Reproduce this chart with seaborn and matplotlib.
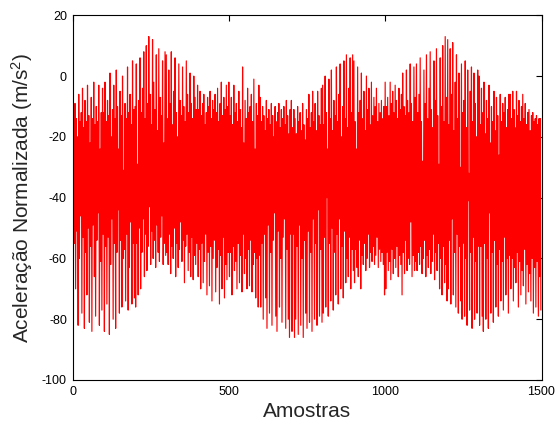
import numpy as np
import pandas as pd
import matplotlib
matplotlib.use("Agg")
import matplotlib.pyplot as plt
import seaborn as sns

# Peak (odd half-cycle) and trough (even half-cycle) values of the normalised
# acceleration signal, one pair every 4 samples, 100 samples per row.
picos = [
    -5, -16, -9, -14, -20, -6, -15, -12, -4, -17, -8, -15, -3, -13, -22, -7, -14, -2, -16, -10, -15, -3, -24, -12, -4,
    -12, -2, -15, -8, -13, 1, -20, -11, -3, -14, 2, -10, -24, -5, -13, 0, -31, -9, -14, 3, -12, -6, -16, 5, -11,
    -10, 4, -29, -8, 6, -12, -4, 8, -14, 10, -9, 13, -6, -16, 12, -2, -11, 7, -18, 9, -7, -13, 5, -22, 8,
    7, -14, 2, -9, 8, -16, -5, 6, -12, -20, 4, -8, -13, 3, -10, -15, 5, -6, -12, 1, -9, -14, 0, -7, -11,
    -3, -11, -5, -13, -9, -6, -16, -12, -7, -10, -5, -14, -8, -11, -6, -12, -4, -15, -9, -2, -13, -7, -11, -3, -10,
    -2, -13, -7, -16, -3, -12, -9, -15, -5, -11, -17, 3, -22, -8, -14, -4, -12, -10, -6, -15, -1, -24, -9, -13, -3,
    -7, -15, -10, -13, -18, -8, -14, -11, -16, -9, -13, -20, -10, -15, -12, -9, -17, -11, -14, -10, -16, -8, -13, -19, -11,
    -8, -17, -11, -14, -19, -10, -15, -12, -18, -9, -16, -21, -11, -14, -6, -17, -12, -5, -15, -9, -18, -5, -13, -16, -4,
    -3, -16, 0, -12, -24, -1, -14, 2, -18, -8, -13, 3, -15, -6, 4, -20, -10, 5, -14, 7, -17, -4, 6, -12, 7,
    5, -15, -24, 3, -12, -8, 1, -14, -5, -18, 0, -11, -4, -16, -2, -13, -7, -10, -4, -15, -9, -12, -8, -14, -10,
    -2, -10, -7, -13, -2, -9, -5, -12, -3, -8, -14, -4, -11, -6, 1, -10, -13, 2, -8, -12, 4, -9, -15, 3, -7,
    4, -12, -6, 6, -15, -28, 2, -9, 7, -14, -4, 8, -11, -17, 5, -8, 9, -13, -29, 6, -10, 10, -15, 13, -7,
    12, -16, 9, -6, 11, -18, -2, 7, -14, 1, -30, 4, -12, -8, 5, -17, 2, -32, -5, 3, -15, 1, -9, -20, 2,
    0, -16, -4, -12, -2, -19, -8, -14, -3, -22, -10, -15, -5, -18, -7, -13, -26, -6, -15, -9, -12, -7, -17, -11, -6,
    -6, -14, -5, -11, -17, -5, -13, -8, -15, -10, -6, -14, -9, -16, -12, -11, -18, -13, -12, -15, -14, -13, -16, -14, -14,
]
vales = [
    -80, -55, -70, -51, -82, -60, -46, -78, -53, -83, -58, -72, -50, -81, -56, -84, -49, -66, -79, -54, -45, -82, -61, -77, -52,
    -84, -56, -75, -53, -85, -62, -47, -80, -55, -83, -58, -44, -78, -54, -76, -60, -57, -74, -52, -77, -63, -48, -75, -55, -73,
    -76, -55, -72, -50, -70, -58, -47, -66, -52, -64, -56, -43, -62, -51, -60, -54, -63, -49, -58, -61, -53, -46, -62, -55, -59,
    -58, -62, -52, -65, -56, -60, -50, -66, -55, -63, -57, -48, -61, -54, -68, -56, -52, -64, -58, -66, -53, -67, -59, -62, -55,
    -66, -57, -70, -55, -68, -61, -52, -72, -58, -69, -56, -74, -60, -54, -71, -63, -57, -75, -59, -70, -53, -73, -62, -67, -58,
    -66, -58, -72, -56, -64, -61, -70, -55, -68, -59, -71, -52, -65, -60, -70, -57, -69, -54, -71, -62, -58, -73, -60, -76, -59,
    -76, -55, -80, -52, -73, -83, -49, -78, -58, -82, -54, -45, -79, -84, -51, -76, -60, -81, -53, -47, -83, -57, -80, -86, -52,
    -84, -52, -86, -80, -56, -85, -49, -82, -60, -86, -54, -78, -83, -51, -81, -58, -84, -47, -80, -55, -82, -44, -79, -57, -81,
    -78, -53, -76, -40, -79, -55, -74, -50, -77, -58, -72, -52, -75, -47, -70, -56, -73, -51, -68, -60, -66, -53, -70, -57, -64,
    -68, -57, -63, -66, -54, -70, -59, -62, -55, -64, -60, -52, -63, -58, -61, -56, -62, -59, -53, -63, -57, -61, -58, -62, -72,
    -70, -58, -64, -61, -67, -57, -65, -60, -63, -56, -66, -59, -62, -72, -58, -65, -54, -64, -60, -62, -48, -66, -59, -64, -61,
    -64, -58, -62, -56, -65, -60, -54, -66, -59, -63, -57, -65, -61, -52, -67, -58, -64, -55, -70, -60, -72, -56, -68, -62, -74,
    -70, -54, -75, -47, -72, -58, -76, -52, -78, -56, -74, -80, -55, -79, -60, -82, -41, -77, -58, -83, -53, -80, -61, -78, -56,
    -82, -56, -79, -84, -55, -80, -60, -83, -45, -78, -58, -81, -54, -76, -62, -79, -57, -74, -61, -77, -53, -72, -60, -78, -59,
    -70, -60, -74, -63, -68, -58, -76, -61, -72, -64, -69, -57, -75, -62, -71, -65, -74, -60, -78, -63, -76, -61, -79, -66, -77,
]

x_ticks = [0, 500, 1000, 1500]
y_ticks = [-100, -80, -60, -40, -20, 0, 20]
x_label = "Amostras"
y_label = r"Aceleração Normalizada (m/s$^2$)"

# Interleave peaks and troughs into one sample sequence (step of 2 samples).
sinal = np.empty(len(picos) + len(vales))
sinal[0::2] = picos
sinal[1::2] = vales
amostras = np.arange(len(sinal)) * 2
df = pd.DataFrame({"amostra": amostras, "aceleracao": sinal})

sns.set_style("white")
plt.rcParams["font.family"] = ["Liberation Sans", "DejaVu Sans"]
plt.rcParams["mathtext.fontset"] = "custom"
plt.rcParams["mathtext.rm"] = "Liberation Sans"
plt.rcParams["mathtext.it"] = "Liberation Sans"
plt.rcParams["axes.unicode_minus"] = False

W, H = 555, 425
fig = plt.figure(figsize=(W / 100, H / 100), dpi=100)
fig.patch.set_facecolor("white")
left, right, top, bottom = 72.5, 541.5, 15.3, 380.0
ax = fig.add_axes([left / W, 1 - bottom / H, (right - left) / W, (bottom - top) / H])

sns.lineplot(data=df, x="amostra", y="aceleracao", color="#ff0000",
             linewidth=0.85, estimator=None, sort=False, ax=ax)

ax.set_xlim(0, 1500)
ax.set_ylim(-100, 20)
ax.set_xticks(x_ticks)
ax.set_yticks(y_ticks)
ax.tick_params(direction="in", length=4, width=0.8, colors="black",
               labelsize=9, top=True, right=True, pad=4)
for s in ax.spines.values():
    s.set_visible(True)
    s.set_color("black")
    s.set_linewidth(0.8)

ax.set_xlabel(x_label, fontsize=15)
ax.set_ylabel(y_label, fontsize=15)
ax.xaxis.set_label_coords(0.5, -(402 - bottom) / (bottom - top))
ax.xaxis.label.set_va("top")
ax.yaxis.set_label_coords(-(left - 35) / (right - left), 0.5)

fig.savefig("out.png", dpi=100, facecolor="white")
